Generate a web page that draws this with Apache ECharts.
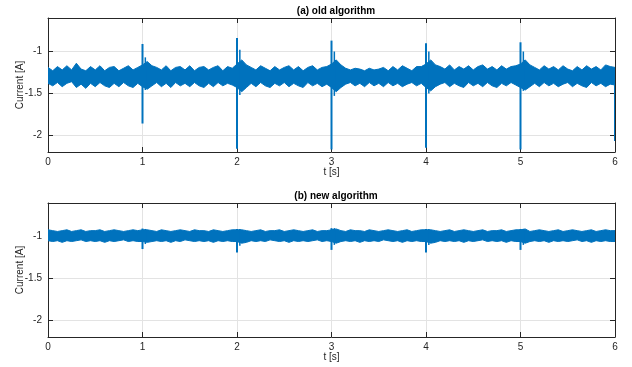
<!DOCTYPE html>
<html>
<head>
<meta charset="utf-8">
<script src="https://cdn.jsdelivr.net/npm/echarts@6/dist/echarts.min.js"></script>
<style>
  html, body { margin: 0; padding: 0; background: #fff; }
  #chart { width: 632px; height: 367px; }
</style>
</head>
<body>
<div id="chart"></div>
<script>
// noise envelope sampled in 0.05 s bins (0 .. 6 s)
const binStep = 0.05;

// (a) old algorithm: noise band (upper / lower edge per bin)
const oldHi = [
  -1.19, -1.23, -1.18, -1.22, -1.17, -1.22, -1.14, -1.21, -1.23, -1.18,
  -1.22, -1.17, -1.23, -1.19, -1.18, -1.23, -1.20, -1.17, -1.22, -1.19,
  -1.16, -1.12, -1.17, -1.19, -1.22, -1.17, -1.23, -1.19, -1.18, -1.22,
  -1.17, -1.23, -1.19, -1.18, -1.22, -1.19, -1.17, -1.23, -1.18, -1.20,
  -1.15, -1.10, -1.16, -1.19, -1.22, -1.17, -1.20, -1.23, -1.18, -1.22,
  -1.19, -1.17, -1.22, -1.18, -1.23, -1.19, -1.17, -1.22, -1.19, -1.18,
  -1.15, -1.10, -1.16, -1.20, -1.22, -1.20, -1.21, -1.23, -1.20, -1.22,
  -1.21, -1.19, -1.23, -1.18, -1.22, -1.17, -1.20, -1.23, -1.18, -1.18,
  -1.15, -1.10, -1.16, -1.18, -1.21, -1.16, -1.22, -1.18, -1.21, -1.17,
  -1.22, -1.18, -1.16, -1.21, -1.18, -1.22, -1.17, -1.21, -1.18, -1.17,
  -1.15, -1.10, -1.16, -1.19, -1.22, -1.17, -1.21, -1.18, -1.22, -1.17,
  -1.21, -1.23, -1.18, -1.22, -1.17, -1.21, -1.18, -1.22, -1.16, -1.18,
  -1.19
];
const oldLo = [
  -1.38, -1.41, -1.37, -1.42, -1.38, -1.36, -1.43, -1.39, -1.44, -1.38,
  -1.42, -1.37, -1.41, -1.43, -1.38, -1.42, -1.37, -1.41, -1.43, -1.38,
  -1.42, -1.45, -1.41, -1.37, -1.42, -1.38, -1.43, -1.37, -1.41, -1.38,
  -1.42, -1.37, -1.41, -1.43, -1.38, -1.42, -1.37, -1.41, -1.38, -1.40,
  -1.43, -1.48, -1.43, -1.38, -1.42, -1.37, -1.41, -1.43, -1.38, -1.41,
  -1.37, -1.42, -1.38, -1.41, -1.43, -1.37, -1.41, -1.38, -1.42, -1.39,
  -1.43, -1.48, -1.43, -1.39, -1.37, -1.41, -1.38, -1.42, -1.37, -1.41,
  -1.38, -1.42, -1.37, -1.41, -1.38, -1.42, -1.39, -1.37, -1.41, -1.38,
  -1.43, -1.47, -1.42, -1.39, -1.37, -1.42, -1.38, -1.41, -1.43, -1.37,
  -1.41, -1.38, -1.42, -1.37, -1.41, -1.43, -1.38, -1.41, -1.37, -1.40,
  -1.43, -1.46, -1.42, -1.38, -1.42, -1.37, -1.41, -1.38, -1.42, -1.39,
  -1.37, -1.42, -1.38, -1.41, -1.43, -1.37, -1.41, -1.38, -1.42, -1.39,
  -1.40
];
// switching spikes of the old algorithm
const oldSpikeT   = [1, 2, 3, 4, 5, 6];
const oldSpikeMax = [-0.91, -0.84, -0.87, -0.90, -0.89, -1.20];
const oldSpikeMin = [-1.86, -2.16, -2.17, -2.15, -2.17, -2.07];
// ringing right after each spike
const oldRingT   = [1.03, 2.03, 3.03, 4.03, 5.03];
const oldRingMax = [-1.07, -0.98, -1.00, -1.00, -1.00];
const oldRingMin = [-1.46, -1.52, -1.53, -1.50, -1.47];

// (b) new algorithm
const newHi = [
  -0.92, -0.93, -0.94, -0.93, -0.92, -0.94, -0.93, -0.92, -0.94, -0.93,
  -0.93, -0.92, -0.94, -0.93, -0.92, -0.93, -0.94, -0.93, -0.92, -0.93,
  -0.92, -0.92, -0.93, -0.94, -0.92, -0.93, -0.94, -0.93, -0.92, -0.93,
  -0.94, -0.92, -0.93, -0.93, -0.94, -0.92, -0.93, -0.94, -0.93, -0.92,
  -0.92, -0.92, -0.93, -0.94, -0.93, -0.92, -0.94, -0.93, -0.93, -0.92,
  -0.94, -0.93, -0.92, -0.93, -0.94, -0.93, -0.92, -0.94, -0.93, -0.93,
  -0.92, -0.91, -0.93, -0.94, -0.92, -0.93, -0.93, -0.94, -0.92, -0.93,
  -0.94, -0.93, -0.92, -0.93, -0.94, -0.93, -0.92, -0.94, -0.93, -0.92,
  -0.92, -0.92, -0.93, -0.94, -0.93, -0.92, -0.94, -0.93, -0.92, -0.93,
  -0.94, -0.93, -0.92, -0.94, -0.93, -0.93, -0.92, -0.94, -0.93, -0.92,
  -0.92, -0.91, -0.94, -0.93, -0.92, -0.93, -0.94, -0.93, -0.92, -0.94,
  -0.93, -0.92, -0.93, -0.94, -0.93, -0.92, -0.94, -0.93, -0.92, -0.93,
  -0.93
];
const newLo = [
  -1.05, -1.06, -1.05, -1.07, -1.05, -1.06, -1.05, -1.04, -1.06, -1.05,
  -1.06, -1.05, -1.07, -1.05, -1.06, -1.05, -1.04, -1.06, -1.05, -1.06,
  -1.06, -1.07, -1.06, -1.05, -1.06, -1.05, -1.07, -1.05, -1.06, -1.04,
  -1.05, -1.06, -1.05, -1.06, -1.05, -1.07, -1.05, -1.06, -1.05, -1.06,
  -1.06, -1.08, -1.07, -1.05, -1.06, -1.05, -1.06, -1.04, -1.05, -1.06,
  -1.05, -1.07, -1.05, -1.06, -1.05, -1.06, -1.05, -1.04, -1.06, -1.05,
  -1.06, -1.08, -1.06, -1.05, -1.06, -1.05, -1.07, -1.05, -1.06, -1.05,
  -1.06, -1.04, -1.05, -1.06, -1.05, -1.07, -1.05, -1.06, -1.05, -1.06,
  -1.06, -1.08, -1.07, -1.05, -1.06, -1.05, -1.06, -1.05, -1.07, -1.05,
  -1.06, -1.05, -1.04, -1.06, -1.05, -1.06, -1.05, -1.07, -1.05, -1.06,
  -1.06, -1.08, -1.06, -1.05, -1.06, -1.05, -1.07, -1.05, -1.06, -1.05,
  -1.06, -1.05, -1.04, -1.06, -1.05, -1.07, -1.05, -1.06, -1.05, -1.06,
  -1.06
];
const newSpikeT   = [1, 2, 3, 4, 5];
const newSpikeMax = [-0.905, -0.91, -0.90, -0.91, -0.91];
const newSpikeMin = [-1.15, -1.19, -1.16, -1.19, -1.16];
const newRingT   = [1.03, 2.03, 3.03, 4.03, 5.03];
const newRingMax = [-0.91, -0.91, -0.90, -0.91, -0.91];
const newRingMin = [-1.09, -1.11, -1.10, -1.10, -1.10];

const yMin = -2.2, yMax = -0.6;
const titles = ['(a) old algorithm', '(b) new algorithm'];

const lineColor = '#0072BD';
const axisColor = '#262626';
const font = 'Liberation Sans, Arial, Helvetica, sans-serif';
const gridTops = [18, 203];

// band polygon: upper edge left->right, lower edge right->left
function bandSeries(hi, lo, xIdx, yIdx) {
  return {
    type: 'custom', xAxisIndex: xIdx, yAxisIndex: yIdx, clip: true,
    data: [0],
    renderItem: function (params, api) {
      const pts = [];
      for (let i = 0; i < hi.length; i++) pts.push(api.coord([i * binStep, hi[i]]));
      for (let i = lo.length - 1; i >= 0; i--) pts.push(api.coord([i * binStep, lo[i]]));
      return {
        type: 'polygon',
        shape: { points: pts },
        style: { fill: lineColor, stroke: lineColor, lineWidth: 1, lineJoin: 'miter' }
      };
    }
  };
}

// vertical strokes from max to min at given times
function spikeSeries(ts, mx, mn, xIdx, yIdx, w) {
  return {
    type: 'custom', xAxisIndex: xIdx, yAxisIndex: yIdx, clip: true,
    data: ts.map((t, i) => [t, mx[i], mn[i]]),
    renderItem: function (params, api) {
      const a = api.coord([api.value(0), api.value(1)]);
      const b = api.coord([api.value(0), api.value(2)]);
      return {
        type: 'line',
        shape: { x1: a[0], y1: a[1], x2: b[0], y2: b[1] },
        style: { stroke: lineColor, lineWidth: w }
      };
    }
  };
}

const chart = echarts.init(document.getElementById('chart'), null, { renderer: 'canvas' });

const xAxes = [], yAxes = [];
gridTops.forEach((t, g) => {
  xAxes.push({
    type: 'value', gridIndex: g, min: 0, max: 6, interval: 1, position: 'bottom',
    name: 't [s]', nameLocation: 'middle', nameGap: 15, nameMoveOverlap: false,
    nameTextStyle: { color: axisColor, fontSize: 10, fontFamily: font, verticalAlign: 'top' },
    axisLine: { show: true, onZero: false, lineStyle: { color: axisColor, width: 1 } },
    axisTick: { show: true, inside: true, length: 5, lineStyle: { color: axisColor } },
    axisLabel: { color: axisColor, fontSize: 10, fontFamily: font, margin: 5 },
    splitLine: { show: true, lineStyle: { color: '#e3e3e3', width: 1 } }
  });
  xAxes.push({
    type: 'value', gridIndex: g, min: 0, max: 6, interval: 1, position: 'top',
    axisLine: { show: true, onZero: false, lineStyle: { color: axisColor, width: 1 } },
    axisTick: { show: true, inside: true, length: 5, lineStyle: { color: axisColor } },
    axisLabel: { show: false }, splitLine: { show: false }
  });
  yAxes.push({
    type: 'value', gridIndex: g, min: yMin, max: yMax, splitNumber: 3, position: 'left',
    name: 'Current [A]', nameLocation: 'middle', nameGap: 23, nameMoveOverlap: false,
    nameTextStyle: { color: axisColor, fontSize: 10, fontFamily: font },
    axisLine: { show: true, onZero: false, lineStyle: { color: axisColor, width: 1 } },
    axisTick: { show: true, inside: true, length: 5, lineStyle: { color: axisColor } },
    axisLabel: { color: axisColor, fontSize: 10, fontFamily: font, margin: 6,
      showMinLabel: false, showMaxLabel: false },
    splitLine: { show: true, lineStyle: { color: '#e3e3e3', width: 1 } }
  });
  yAxes.push({
    type: 'value', gridIndex: g, min: yMin, max: yMax, splitNumber: 3, position: 'right',
    axisLine: { show: true, onZero: false, lineStyle: { color: axisColor, width: 1 } },
    axisTick: { show: true, inside: true, length: 5, lineStyle: { color: axisColor } },
    axisLabel: { show: false }, splitLine: { show: false }
  });
});

const option = {
  animation: false,
  backgroundColor: '#fff',
  title: titles.map((txt, g) => ({
    text: txt, left: 331, top: gridTops[g] - 17, textAlign: 'center',
    textStyle: { fontSize: 10, fontWeight: 'bold', color: '#000', fontFamily: font }
  })),
  grid: gridTops.map(t => ({
    left: 48, right: 17, top: t, height: 134, containLabel: false, outerBoundsMode: 'none'
  })),
  xAxis: xAxes,
  yAxis: yAxes,
  series: [
    bandSeries(oldHi, oldLo, 0, 0),
    spikeSeries(oldSpikeT, oldSpikeMax, oldSpikeMin, 0, 0, 2),
    spikeSeries(oldRingT, oldRingMax, oldRingMin, 0, 0, 1.5),
    bandSeries(newHi, newLo, 2, 2),
    spikeSeries(newSpikeT, newSpikeMax, newSpikeMin, 2, 2, 2),
    spikeSeries(newRingT, newRingMax, newRingMin, 2, 2, 1.5)
  ]
};

chart.setOption(option);
</script>
</body>
</html>
